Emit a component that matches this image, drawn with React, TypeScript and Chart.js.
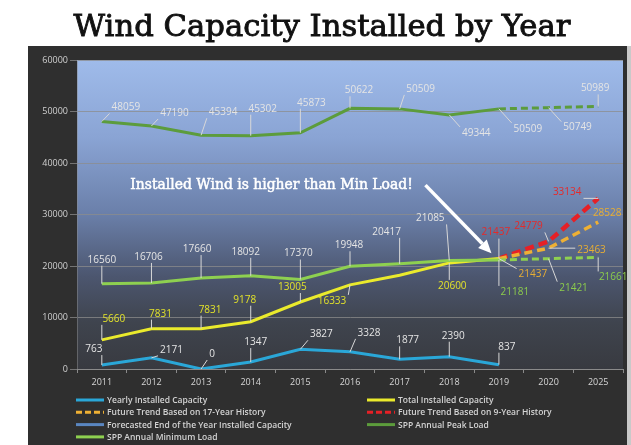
import React, { useEffect, useRef } from "react";
import { Chart, registerables } from "chart.js";

Chart.register(...registerables);

// ---------------- data ----------------
const CATEGORIES = ["2011", "2012", "2013", "2014", "2015", "2016", "2017", "2018", "2019", "2020", "2025"];
const Y_MIN = 0;
const Y_MAX = 60000;
const Y_STEP = 10000;

const YEARLY_INSTALLED = [763, 2171, 0, 1347, 3827, 3328, 1877, 2390, 837, null, null];
const TOTAL_INSTALLED = [5660, 7831, 7831, 9178, 13005, 16333, 18210, 20600, 21437, null, null];
const TREND_17_YEAR = [null, null, null, null, null, null, null, null, 21437, 23463, 28528];
const TREND_9_YEAR = [null, null, null, null, null, null, null, null, 21437, 24779, 33134];
const FORECAST_END_OF_YEAR = [null, null, null, null, null, null, null, null, null, null, null];
const PEAK_LOAD = [48059, 47190, 45394, 45302, 45873, 50622, 50509, 49344, 50509, 50749, 50989];
const MIN_LOAD = [16560, 16706, 17660, 18092, 17370, 19948, 20417, 21085, 21181, 21421, 21661];
const FORECAST_START = 8; // index of 2019: loads dashed after it

const TITLE = "Wind Capacity Installed by Year";
const NOTE = "Installed Wind is higher than Min Load!";

// ---------------- styles ----------------
const W = 631;
const H = 445;
const FRAME = { left: 28, top: 46, right: 627 };
const C = {
  yearly: "#2aa7d8",
  total: "#eaea2c",
  t17: "#eeb034",
  t9: "#e62026",
  forecast: "#5a86c0",
  peak: "#5c9c3c",
  min: "#8ed050",
  white: "#e4e4e4",
  yellowTxt: "#e2e22a",
  orangeTxt: "#e8ae34",
  redTxt: "#e42a2a",
  greenTxt: "#8ccc4c",
};

// label offsets (dx, dy) from the point, in px (null = no label)
type Off = [number, number] | null;
const OFF_PEAK: Off[] = [[24, -14], [23, -13], [22, -23], [12, -27], [11, -30], [9, -18], [21, -20], [27, 18], [29, 20], [29, 20], [-3, -18]];
const OFF_MIN: Off[] = [[0, -24], [-3, -26], [-4, -29], [-5, -24], [-2, -26], [-1, -21], [-13, -32], [-19, -42], [16, 32], [25, 29], [15, 20]];
const OFF_TOTAL: Off[] = [[12, -21], [9, -15], [9, -19], [-6, -22], [-8, -15], [-18, 16], null, [3, 23], null, null, null];
const OFF_T17: Off[] = [null, null, null, null, null, null, null, null, [34, 16], [43, 2], [9, -9]];
const OFF_T9: Off[] = [null, null, null, null, null, null, null, null, [-3, -26], [-20, -15], [-31, -6]];
const OFF_YEARLY: Off[] = [[-8, -16], [20, -8], [11, -15], [5, -20], [21, -15], [19, -19], [8, -19], [4, -21], [8, -18], null, null];

const LEGEND_LEFT = ["Yearly Installed Capacity", "Future Trend Based on 17-Year History", "Forecasted End of the Year Installed Capacity", "SPP Annual Minimum Load"];
const LEGEND_RIGHT = ["Total Installed Capacity", "Future Trend Based on 9-Year History", "SPP Annual Peak Load"];

const LABEL_FONT = "10px 'Open Sans'";

function fitSize(ctx: CanvasRenderingContext2D, text: string, family: string, weight: string, target: number) {
  ctx.font = `${weight} 100px ${family}`;
  return (100 * target) / ctx.measureText(text).width;
}

const backgroundPlugin = {
  id: "bgFrame",
  beforeDraw(chart: any) {
    const { ctx, chartArea: ca } = chart;
    ctx.save();
    ctx.fillStyle = "#ffffff";
    ctx.fillRect(0, 0, W, H);
    ctx.fillStyle = "#c9c9c9";
    ctx.fillRect(FRAME.right, FRAME.top, W - FRAME.right, H - FRAME.top);
    ctx.fillStyle = "#2f2f2f";
    ctx.fillRect(FRAME.left, FRAME.top, FRAME.right - FRAME.left, H - FRAME.top);
    const g = ctx.createLinearGradient(0, ca.top, 0, ca.bottom);
    g.addColorStop(0, "#9fbbea");
    g.addColorStop(0.25, "#8aa4d4");
    g.addColorStop(0.5, "#6a7fa9");
    g.addColorStop(0.7, "#4c566f");
    g.addColorStop(0.85, "#3f444e");
    g.addColorStop(1, "#383a40");
    ctx.fillStyle = g;
    ctx.fillRect(ca.left, ca.top, ca.right - ca.left, ca.bottom - ca.top);
    // title
    const fam = "'DejaVu Serif'";
    const size = fitSize(ctx, TITLE, fam, "normal", 497);
    ctx.font = `normal ${size}px ${fam}`;
    ctx.fillStyle = "#111";
    ctx.strokeStyle = "#111";
    ctx.lineWidth = 0.9;
    ctx.textAlign = "center";
    ctx.textBaseline = "alphabetic";
    ctx.fillText(TITLE, 322, 36);
    ctx.strokeText(TITLE, 322, 36);
    ctx.restore();
  },
};

const labelsPlugin = {
  id: "pointLabels",
  afterDatasetsDraw(chart: any) {
    const { ctx } = chart;
    ctx.save();
    ctx.font = LABEL_FONT;
    ctx.textAlign = "center";
    ctx.textBaseline = "middle";
    chart.data.datasets.forEach((ds: any, i: number) => {
      const offs: Off[] = ds.labelOffsets;
      if (!offs) return;
      const meta = chart.getDatasetMeta(i);
      ds.data.forEach((v: number | null, j: number) => {
        const off = offs[j];
        if (v === null || off === null || off === undefined) return;
        const el = meta.data[j];
        const px = el.x;
        const py = el.y;
        const cx = px + off[0];
        const cy = py + off[1];
        const text = String(v);
        const w = ctx.measureText(text).width;
        const l = cx - w / 2 - 2, r = cx + w / 2 + 2, t = cy - 6, b = cy + 6;
        const ex = Math.min(Math.max(px, l), r);
        const ey = Math.min(Math.max(py, t), b);
        if (Math.hypot(ex - px, ey - py) > 4) {
          ctx.strokeStyle = "#d8d8d8";
          ctx.lineWidth = 1;
          ctx.beginPath();
          ctx.moveTo(px, py);
          ctx.lineTo(ex, ey);
          ctx.stroke();
        }
        ctx.fillStyle = typeof ds.labelColor === "function" ? ds.labelColor(j) : ds.labelColor;
        ctx.fillText(text, cx, cy);
      });
    });
    ctx.restore();
  },
};

const notePlugin = {
  id: "note",
  afterDraw(chart: any) {
    const { ctx, scales } = chart;
    const x = scales.x, y = scales.y;
    ctx.save();
    const fam = "'DejaVu Serif'";
    const size = fitSize(ctx, NOTE, fam, "normal", 283);
    ctx.font = `normal ${size}px ${fam}`;
    ctx.fillStyle = "#ffffff";
    ctx.strokeStyle = "#ffffff";
    ctx.lineWidth = 0.5;
    ctx.textAlign = "center";
    ctx.textBaseline = "middle";
    const tx = x.getPixelForValue(3.42), ty = y.getPixelForValue(35700);
    ctx.fillText(NOTE, tx, ty);
    ctx.strokeText(NOTE, tx, ty);
    // arrow
    const x0 = x.getPixelForValue(6.52), y0 = y.getPixelForValue(35700);
    const x1 = x.getPixelForValue(7.85), y1 = y.getPixelForValue(22500);
    const ang = Math.atan2(y1 - y0, x1 - x0);
    const hl = 13, hw = 6;
    const bx = x1 - hl * Math.cos(ang), by = y1 - hl * Math.sin(ang);
    ctx.strokeStyle = "#ffffff";
    ctx.lineWidth = 3.5;
    ctx.beginPath();
    ctx.moveTo(x0, y0);
    ctx.lineTo(bx, by);
    ctx.stroke();
    ctx.fillStyle = "#ffffff";
    ctx.beginPath();
    ctx.moveTo(x1, y1);
    ctx.lineTo(bx + hw * Math.sin(ang), by - hw * Math.cos(ang));
    ctx.lineTo(bx - hw * Math.sin(ang), by + hw * Math.cos(ang));
    ctx.closePath();
    ctx.fill();
    ctx.restore();
  },
};

const legendPlugin = {
  id: "twoColLegend",
  afterDraw(chart: any) {
    const { ctx } = chart;
    const byLabel: Record<string, any> = {};
    chart.data.datasets.forEach((d: any) => (byLabel[d.label] = d));
    ctx.save();
    ctx.font = "600 8.5px 'Open Sans'";
    ctx.textBaseline = "middle";
    ctx.textAlign = "left";
    const cols: [string[], number][] = [[LEGEND_LEFT, 76], [LEGEND_RIGHT, 367]];
    cols.forEach(([items, x0]) => {
      items.forEach((name, k) => {
        const d = byLabel[name];
        const yy = 400 + k * 12.3;
        ctx.strokeStyle = d.borderColor;
        ctx.lineWidth = 3;
        ctx.setLineDash(d.legendDash || []);
        ctx.beginPath();
        ctx.moveTo(x0, yy);
        ctx.lineTo(x0 + 28, yy);
        ctx.stroke();
        ctx.setLineDash([]);
        ctx.fillStyle = "#d4d4d4";
        ctx.fillText(name, x0 + 31, yy + 0.5);
      });
    });
    ctx.restore();
  },
};

const loadDash = (ctx: any) => (ctx.p0DataIndex >= FORECAST_START ? [7, 4] : undefined);

export default function App() {
  const ref = useRef<HTMLCanvasElement | null>(null);
  useEffect(() => {
    document.body.style.margin = "0";
    const canvas = ref.current!;
    const base = { pointRadius: 0, pointHoverRadius: 0, fill: false, tension: 0, spanGaps: false };
    const chart = new Chart(canvas, {
      type: "line",
      data: {
        labels: CATEGORIES,
        datasets: [
          { ...base, label: "Forecasted End of the Year Installed Capacity", data: FORECAST_END_OF_YEAR, borderColor: C.forecast, borderWidth: 3 },
          { ...base, label: "SPP Annual Peak Load", data: PEAK_LOAD, borderColor: C.peak, borderWidth: 3, segment: { borderDash: loadDash }, labelOffsets: OFF_PEAK, labelColor: C.white },
          { ...base, label: "SPP Annual Minimum Load", data: MIN_LOAD, borderColor: C.min, borderWidth: 3, segment: { borderDash: loadDash }, labelOffsets: OFF_MIN, labelColor: (j: number) => (j >= FORECAST_START ? C.greenTxt : C.white) },
          { ...base, label: "Total Installed Capacity", data: TOTAL_INSTALLED, borderColor: C.total, borderWidth: 3, labelOffsets: OFF_TOTAL, labelColor: C.yellowTxt },
          { ...base, label: "Future Trend Based on 17-Year History", data: TREND_17_YEAR, borderColor: C.t17, borderWidth: 3.5, borderDash: [8, 5], legendDash: [6, 3], labelOffsets: OFF_T17, labelColor: C.orangeTxt },
          { ...base, label: "Future Trend Based on 9-Year History", data: TREND_9_YEAR, borderColor: C.t9, borderWidth: 4.5, borderDash: [9, 5], legendDash: [6, 3], labelOffsets: OFF_T9, labelColor: C.redTxt },
          { ...base, label: "Yearly Installed Capacity", data: YEARLY_INSTALLED, borderColor: C.yearly, borderWidth: 3, labelOffsets: OFF_YEARLY, labelColor: C.white },
        ] as any,
      },
      options: {
        responsive: false,
        animation: false,
        devicePixelRatio: 1,
        events: [],
        layout: { padding: { left: FRAME.left, top: 60, right: W - 623, bottom: 0 } },
        plugins: { legend: { display: false }, title: { display: false }, tooltip: { enabled: false } },
        scales: {
          x: {
            type: "category",
            offset: true,
            grid: { display: true, drawOnChartArea: false, drawTicks: true, tickLength: 4, color: "#8a8a8a", offset: true },
            border: { display: true, color: "#8a8a8a", width: 1 },
            ticks: { color: "#d6d6d6", font: { family: "'Open Sans'", size: 9 }, padding: 4, maxRotation: 0, autoSkip: false },
            afterFit: (s: any) => { s.height = 76; },
          },
          y: {
            min: Y_MIN,
            max: Y_MAX,
            grid: { color: "rgba(140,140,140,0.75)", lineWidth: 1, tickLength: 7, drawTicks: true },
            border: { display: true, color: "rgba(140,140,140,0.5)" },
            ticks: { stepSize: Y_STEP, color: "#d0d0d0", font: { family: "'Open Sans'", size: 9 }, padding: 2, callback: (v: any) => String(v) },
            afterFit: (s: any) => { s.width = 49; },
          },
        },
      },
      plugins: [backgroundPlugin, labelsPlugin, notePlugin, legendPlugin],
    } as any);
    return () => chart.destroy();
  }, []);
  return (
    <div style={{ width: W, height: H }}>
      <canvas ref={ref} width={W} height={H} style={{ display: "block", width: W, height: H }} />
    </div>
  );
}
